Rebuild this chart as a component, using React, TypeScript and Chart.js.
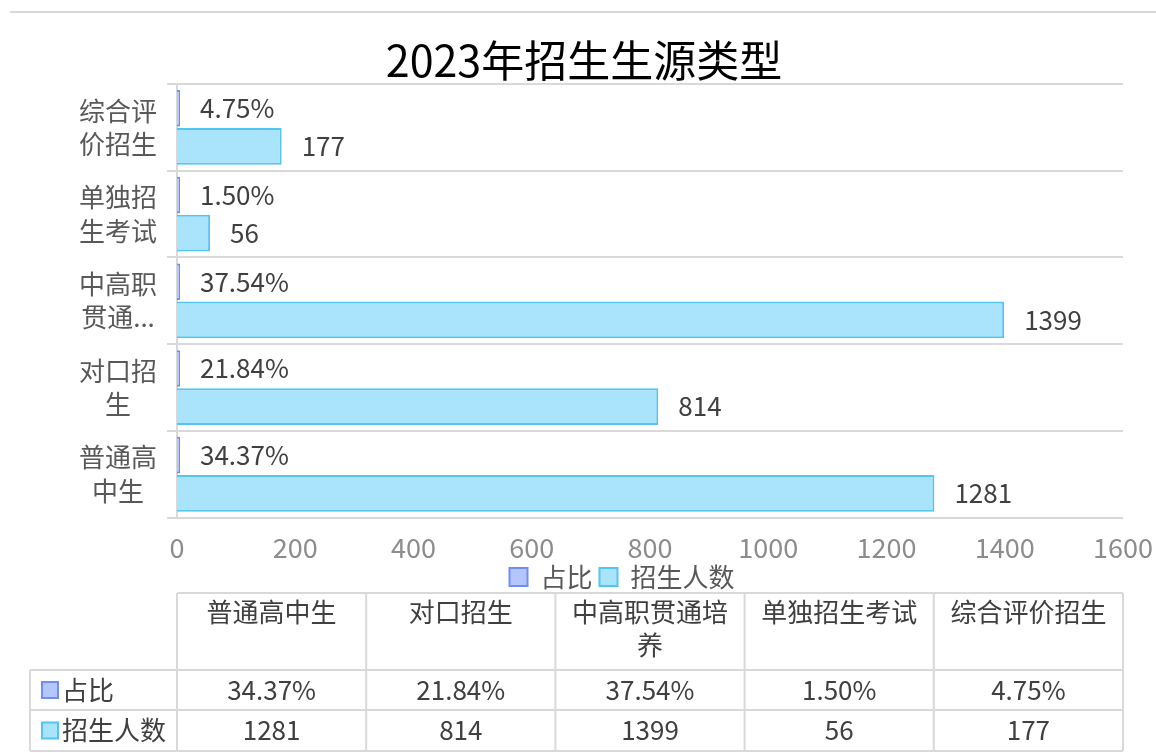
import React, { useEffect, useRef } from 'react';
import { Chart, registerables } from 'chart.js';

Chart.register(...registerables);

// ---------- data ----------
const TITLE = '2023年招生生源类型';
const categories = ['普通高中生', '对口招生', '中高职贯通培养', '单独招生考试', '综合评价招生'];
const seriesNames = ['占比', '招生人数'];
const shareValues = [0.3437, 0.2184, 0.3754, 0.015, 0.0475];
const enrollValues = [1281, 814, 1399, 56, 177];
const xMin = 0;
const xMax = 1600;
const xStep = 200;

// ---------- style ----------
const FONT = '"Noto Sans CJK SC", "Noto Sans", sans-serif';
const SHARE_FILL = '#b4c6fb';
const SHARE_BORDER = '#6e8ff6';
const ENROLL_FILL = '#a9e3fc';
const ENROLL_BORDER = '#52c4f6';
const GRID = '#d9d9d9';
const TEXT_DARK = '#404040';
const TEXT_MID = '#595959';
const TEXT_LIGHT = '#8c8c8c';

const formatShare = (v: number) => (v * 100).toFixed(2) + '%';
const formatEnroll = (v: number) => String(v);
const formatters = [formatShare, formatEnroll];
const seriesFill = [SHARE_FILL, ENROLL_FILL];
const seriesBorder = [SHARE_BORDER, ENROLL_BORDER];

function wrapAxisLabel(name: string): string[] {
  const per = 3;
  const lines: string[] = [];
  for (let i = 0; i < name.length; i += per) lines.push(name.slice(i, i + per));
  if (lines.length > 2) return [lines[0], lines[1].slice(0, 2) + '...'];
  return lines;
}

function wrapByWidth(ctx: CanvasRenderingContext2D, text: string, maxW: number): string[] {
  const lines: string[] = [];
  let cur = '';
  for (const ch of text) {
    if (ctx.measureText(cur + ch).width > maxW && cur) {
      lines.push(cur);
      cur = ch;
    } else cur += ch;
  }
  if (cur) lines.push(cur);
  return lines;
}

const frameLinePlugin = {
  id: 'frameLine',
  beforeDraw(chart: any) {
    const ctx = chart.ctx;
    ctx.save();
    ctx.strokeStyle = GRID;
    ctx.lineWidth = 2;
    ctx.beginPath();
    ctx.moveTo(10, 12);
    ctx.lineTo(chart.width, 12);
    ctx.stroke();
    ctx.restore();
  },
};

const valueLabelPlugin = {
  id: 'valueLabels',
  afterDatasetsDraw(chart: any) {
    const ctx = chart.ctx;
    ctx.save();
    ctx.font = `26px ${FONT}`;
    ctx.fillStyle = TEXT_DARK;
    ctx.textAlign = 'left';
    ctx.textBaseline = 'middle';
    chart.data.datasets.forEach((ds: any, di: number) => {
      const meta = chart.getDatasetMeta(di);
      meta.data.forEach((el: any, i: number) => {
        ctx.fillText(formatters[di](ds.data[i]), el.x + 20, el.y);
      });
    });
    ctx.restore();
  },
};

// place the legend row where the reference has it (centre x 622, key centre y 575)
const legendPlacePlugin = {
  id: 'legendPlace',
  afterLayout(chart: any) {
    const lg = chart.legend;
    if (!lg) return;
    const dx = 622 - (lg.left + lg.right) / 2;
    lg.left += dx;
    lg.right += dx;
    const dy = 575 - 18 - lg.top;
    lg.top += dy;
    lg.bottom += dy;
  },
};

const tablePlugin = {
  id: 'dataTable',
  afterDraw(chart: any) {
    const ctx: CanvasRenderingContext2D = chart.ctx;
    const xs = chart.scales.x;
    const left = xs.left;
    const right = xs.right;
    const n = categories.length;
    const colW = (right - left) / n;
    const top = 593;
    const headerH = 77;
    const rowHs = [40, 41];
    const labelLeft = 30;
    const rowTops = [top + headerH, top + headerH + rowHs[0]];
    const bottom = rowTops[1] + rowHs[1];

    ctx.save();
    ctx.strokeStyle = GRID;
    ctx.lineWidth = 2;
    ctx.beginPath();
    ctx.moveTo(left, top);
    ctx.lineTo(right, top);
    [rowTops[0], rowTops[1], bottom].forEach((y) => {
      ctx.moveTo(labelLeft, y);
      ctx.lineTo(right, y);
    });
    for (let c = 0; c <= n; c++) {
      const x = left + c * colW;
      ctx.moveTo(x, top);
      ctx.lineTo(x, bottom);
    }
    ctx.moveTo(labelLeft, rowTops[0]);
    ctx.lineTo(labelLeft, bottom);
    ctx.stroke();

    ctx.font = `26px ${FONT}`;
    ctx.fillStyle = TEXT_DARK;
    ctx.textBaseline = 'middle';
    ctx.textAlign = 'center';
    categories.forEach((cat, i) => {
      const cx = left + (i + 0.5) * colW;
      const lines = wrapByWidth(ctx, cat, colW - 20);
      lines.forEach((ln, li) => ctx.fillText(ln, cx, top + 19 + li * 33));
    });

    const rows = [shareValues, enrollValues];
    rows.forEach((vals, r) => {
      const cy = rowTops[r] + rowHs[r] / 2;
      vals.forEach((v, i) => {
        const cx = left + (i + 0.5) * colW;
        ctx.fillStyle = TEXT_DARK;
        ctx.textAlign = 'center';
        ctx.fillText(formatters[r](v), cx, cy);
      });
      ctx.fillStyle = seriesFill[r];
      ctx.fillRect(42, cy - 8, 16, 16);
      ctx.strokeStyle = seriesBorder[r];
      ctx.lineWidth = 2;
      ctx.strokeRect(42, cy - 8, 16, 16);
      ctx.fillStyle = TEXT_DARK;
      ctx.textAlign = 'left';
      ctx.fillText(seriesNames[r], 62, cy);
    });
    ctx.restore();
  },
};

export default function App() {
  const ref = useRef<HTMLCanvasElement>(null);

  useEffect(() => {
    const canvas = ref.current;
    if (!canvas) return;
    Chart.defaults.font.family = FONT;
    const chart = new Chart(canvas, {
      type: 'bar',
      data: {
        labels: categories,
        datasets: [
          {
            label: seriesNames[0],
            data: shareValues,
            backgroundColor: SHARE_FILL,
            borderColor: SHARE_BORDER,
            borderWidth: 2,
            minBarLength: 3,
            categoryPercentage: 0.88,
            barPercentage: 0.96,
          },
          {
            label: seriesNames[1],
            data: enrollValues,
            backgroundColor: ENROLL_FILL,
            borderColor: ENROLL_BORDER,
            borderWidth: 2,
            categoryPercentage: 0.88,
            barPercentage: 0.96,
          },
        ],
      },
      options: {
        indexAxis: 'y',
        animation: false,
        responsive: true,
        maintainAspectRatio: false,
        layout: { padding: { left: 45, right: 33, top: 0, bottom: 132 } },
        scales: {
          x: {
            type: 'linear',
            min: xMin,
            max: xMax,
            ticks: {
              stepSize: xStep,
              font: { size: 27 },
              color: TEXT_LIGHT,
              padding: 14,
              callback: (v: any) => String(v),
            },
            grid: { display: false, drawTicks: false },
            border: { display: false },
            afterFit: (s: any) => {
              s.paddingRight = 0;
            },
          },
          y: {
            type: 'category',
            reverse: true,
            offset: true,
            grid: { offset: true, color: GRID, lineWidth: 2, tickLength: 10, drawTicks: true },
            border: { color: GRID, width: 2 },
            ticks: {
              font: { size: 26, lineHeight: 1.28 },
              color: TEXT_MID,
              crossAlign: 'center',
              padding: 10,
              autoSkip: false,
              callback: function (this: any, value: any) {
                return wrapAxisLabel(this.getLabelForValue(value));
              },
            },
            afterFit: (s: any) => {
              s.width = 132;
            },
          },
        },
        plugins: {
          title: {
            display: true,
            text: TITLE,
            color: '#000000',
            font: { size: 43, weight: 'normal', lineHeight: 1 },
            padding: { top: 39, bottom: 2 },
          },
          legend: {
            position: 'bottom',
            labels: { boxWidth: 18, boxHeight: 18, font: { size: 26 }, color: TEXT_MID, padding: 7 },
          },
          tooltip: { enabled: false },
        },
      } as any,
      plugins: [frameLinePlugin, valueLabelPlugin, legendPlacePlugin, tablePlugin],
    });
    return () => chart.destroy();
  }, []);

  return (
    <div style={{ position: 'fixed', left: 0, top: 0, width: 1156, height: 753, background: '#ffffff' }}>
      <canvas ref={ref} />
    </div>
  );
}
